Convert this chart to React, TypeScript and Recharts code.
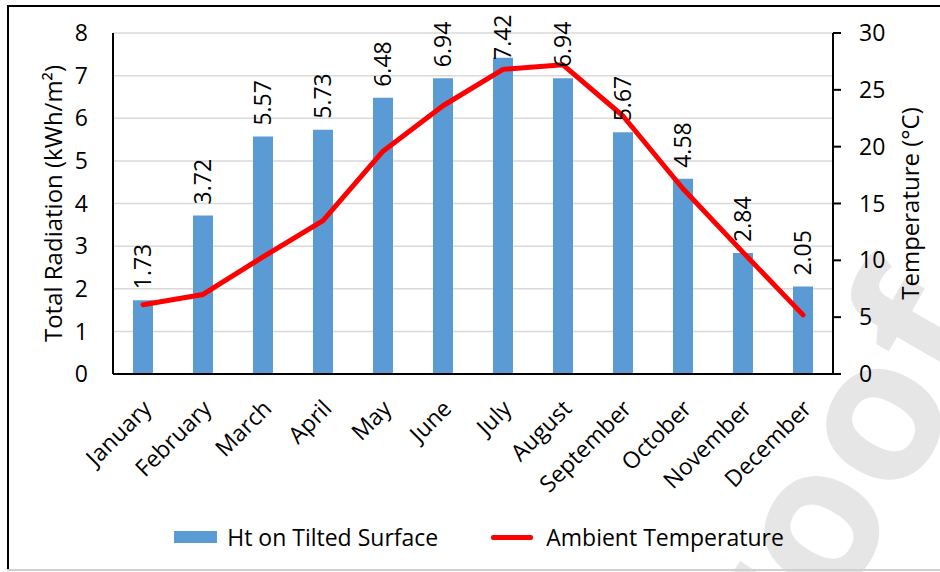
import React from 'react';
import { ComposedChart, Bar, Line, XAxis, YAxis, CartesianGrid, Legend, LabelList } from 'recharts';

const months = ['January', 'February', 'March', 'April', 'May', 'June', 'July', 'August', 'September', 'October', 'November', 'December'];
const radiation = [1.73, 3.72, 5.57, 5.73, 6.48, 6.94, 7.42, 6.94, 5.67, 4.58, 2.84, 2.05];
const temperature = [6.1, 7.0, 10.3, 13.5, 19.6, 23.6, 26.8, 27.2, 22.7, 16.3, 10.7, 5.2];
const radiationTicks = [0, 1, 2, 3, 4, 5, 6, 7, 8];
const temperatureTicks = [0, 5, 10, 15, 20, 25, 30];
const barName = 'Ht on Tilted Surface';
const lineName = 'Ambient Temperature';
const leftTitle = 'Total Radiation (kWh/m²)';
const rightTitle = 'Temperature (°C)';
const watermark = 'Proof';

const data = months.map((m, i) => ({ month: m, radiation: radiation[i], temperature: temperature[i] }));

const FONT = '"Open Sans", "Noto Sans", sans-serif';
const BLUE = '#5b9bd5';
const RED = '#ff0000';
const FS = 23;

const MonthTick = (props: any) => {
  const { x, y, payload } = props;
  return (
    <text
      transform={`translate(${x + 10},${y + 36}) rotate(-45)`}
      textAnchor="end"
      fontFamily={FONT}
      fontSize={FS}
      fill="#000"
    >
      {payload.value}
    </text>
  );
};

const LABEL_GAP = 11;
const LABEL_LEN = 47;
const LABEL_MIN_TOP = 13;

const BarValueLabel = (props: any) => {
  const { x, y, width, value } = props;
  const cx = x + width / 2;
  const start = Math.max(y - LABEL_GAP, LABEL_MIN_TOP + LABEL_LEN);
  return (
    <text
      transform={`translate(${cx},${start}) rotate(-90)`}
      textAnchor="start"
      dy={8.2}
      fontFamily={FONT}
      fontSize={FS}
      fill="#000"
    >
      {Number(value).toFixed(2)}
    </text>
  );
};

const LeftTitle = (props: any) => {
  const { viewBox } = props;
  const cy = viewBox.y + viewBox.height / 2;
  const bx = viewBox.x + 62;
  return (
    <text transform={`translate(${bx},${cy}) rotate(-90)`} textAnchor="middle" fontFamily={FONT} fontSize={24} fill="#000">
      {leftTitle}
    </text>
  );
};

const RightTitle = (props: any) => {
  const { viewBox } = props;
  const cy = viewBox.y + viewBox.height / 2;
  const bx = viewBox.x + 86;
  return (
    <text transform={`translate(${bx},${cy}) rotate(-90)`} textAnchor="middle" fontFamily={FONT} fontSize={24} fill="#000">
      {rightTitle}
    </text>
  );
};

const CustomLegend = (props: any) => {
  const raw = props.payload || [];
  const payload = [...raw].sort((a: any, b: any) => (a.type === 'line' ? 1 : 0) - (b.type === 'line' ? 1 : 0));
  return (
    <div style={{ height: 40, display: 'flex', justifyContent: 'center', alignItems: 'center', paddingLeft: 18, fontFamily: FONT, fontSize: FS, color: '#000' }}>
      {payload.map((entry: any, i: number) => (
        <div key={i} style={{ display: 'flex', alignItems: 'center', marginRight: i === 0 ? 53 : 0 }}>
          {entry.type === 'line' ? (
            <div style={{ width: 42, height: 5, background: entry.color, marginRight: 13, borderRadius: 2 }} />
          ) : (
            <div style={{ width: 43, height: 12, background: entry.color, marginRight: 10 }} />
          )}
          <span>{entry.value}</span>
        </div>
      ))}
    </div>
  );
};

export default function App() {
  return (
    <div style={{ position: 'absolute', left: 0, top: 0, width: 940, height: 572, overflow: 'hidden', background: '#fff' }}>
      <svg width={940} height={572} style={{ position: 'absolute', left: 0, top: 0 }}>
        <text x={730} y={800} transform="rotate(-60, 730, 800)" fontFamily={FONT} fontWeight={700} fontSize={200} fill="#e6e6e6">
          {watermark}
        </text>
      </svg>
      <div style={{ position: 'absolute', left: 7, top: 5, width: 933, height: 2, background: '#000' }} />
      <div style={{ position: 'absolute', left: 7, top: 5, width: 2, height: 565, background: '#000' }} />
      <div style={{ position: 'absolute', left: 7, top: 569, width: 933, height: 2, background: '#d0d0d0' }} />
      <div style={{ position: 'absolute', left: 0, top: 0 }}>
        <ComposedChart width={940} height={572} data={data} margin={{ top: 33, right: 0, bottom: 15, left: 0 }}>
          <CartesianGrid yAxisId="left" vertical={false} stroke="#d9d9d9" strokeWidth={1.5} />
          <XAxis
            dataKey="month"
            interval={0}
            height={143}
            tickLine={false}
            tickSize={0}
            tickMargin={0}
            axisLine={{ stroke: '#000', strokeWidth: 2 }}
            tick={<MonthTick />}
          />
          <YAxis
            yAxisId="left"
            width={113}
            domain={[0, 8]}
            ticks={radiationTicks}
            interval={0}
            tickLine={false}
            tickSize={0}
            tickMargin={25}
            axisLine={{ stroke: '#000', strokeWidth: 2 }}
            tick={{ fill: '#000', fontSize: FS, fontFamily: FONT }}
            label={<LeftTitle />}
          />
          <YAxis
            yAxisId="right"
            orientation="right"
            width={107}
            domain={[0, 30]}
            ticks={temperatureTicks}
            interval={0}
            tickSize={8}
            tickMargin={18}
            tickLine={{ stroke: '#000', strokeWidth: 2 }}
            axisLine={{ stroke: '#000', strokeWidth: 2 }}
            tick={{ fill: '#000', fontSize: FS, fontFamily: FONT, textAnchor: 'start' }}
            label={<RightTitle />}
          />
          <Legend verticalAlign="bottom" content={<CustomLegend />} />
          <Bar yAxisId="left" dataKey="radiation" name={barName} fill={BLUE} barSize={20} isAnimationActive={false}>
            <LabelList dataKey="radiation" content={<BarValueLabel />} />
          </Bar>
          <Line
            yAxisId="right"
            type="linear"
            dataKey="temperature"
            name={lineName}
            stroke={RED}
            strokeWidth={5}
            strokeLinejoin="round"
            strokeLinecap="round"
            dot={false}
            activeDot={false}
            legendType="line"
            isAnimationActive={false}
          />
        </ComposedChart>
      </div>
    </div>
  );
}
